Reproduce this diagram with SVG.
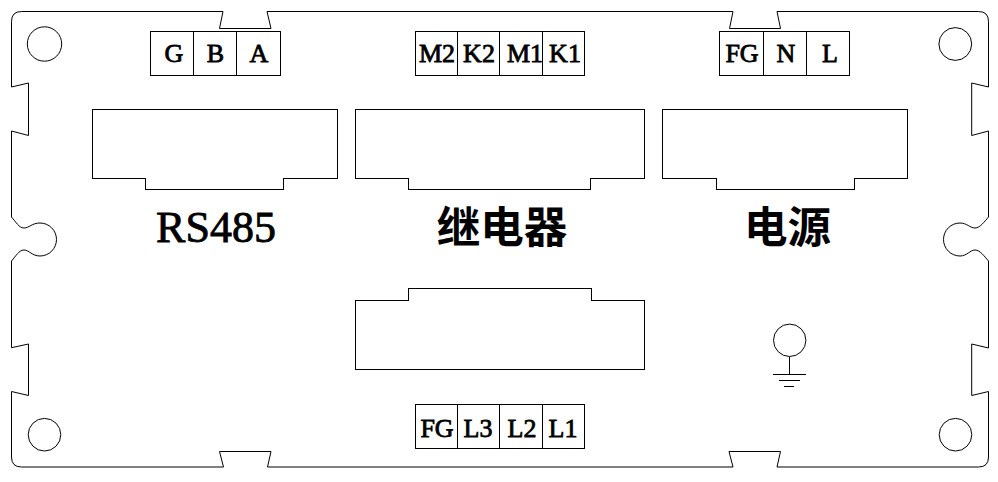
<svg xmlns="http://www.w3.org/2000/svg" width="998" height="482" viewBox="0 0 998 482">
<style>
.l{fill:none;stroke:#000;stroke-width:1}
.s{shape-rendering:crispEdges}
.t{font-family:"Liberation Serif",serif;font-size:26px;text-anchor:middle;fill:#000;stroke:#000;stroke-width:.8}
.h{font-family:"Noto Sans CJK SC",sans-serif;font-weight:bold;font-size:43.5px;text-anchor:middle;fill:#000}
</style>
<rect width="998" height="482" fill="#fff"/>
<g id="outline">
<path class="l" d="M223 11.5L219.5 28.5H271L267 11.5H733L729.5 28.5H780.5L777 11.5H978.5Q988.5 11.5 988.5 21.5V87L971.7 83V135.5L988.5 131V217C984 222 980 228 975 228C970 228 967 223 960 223A16.5 16.5 0 0 0 960 256C967 256 970 250 975 250C980 250 984 256 988.5 261V348L971.7 344V395.5L988.5 391.5V457Q988.5 467 978.5 467H777L780.5 451.5H729L733 467H267.5L271 451.5H219.5L223.5 467H21.5Q11.5 467 11.5 457V391.5L28.5 395.5V344L11.5 347.7V261C16 256 19 250 24 250C29 250 32 256 40 256A16.5 16.5 0 0 0 40 223C32 223 29 228 24 228C19 228 16 222 11.5 217V131L28.5 135.5V83L11.5 87V21.5Q11.5 11.5 21.5 11.5Z"/>
</g>
<g id="holes">
<circle class="l" cx="44.5" cy="44" r="17.2"/>
<circle class="l" cx="955.3" cy="44" r="16.4"/>
<circle class="l" cx="44.5" cy="434.7" r="16.3"/>
<circle class="l" cx="955.5" cy="434.7" r="16.3"/>
</g>
<g id="block-gba">
<path class="l s" d="M150.5 31.5H280.5V75.5H150.5ZM193.5 31.5V75.5M236.5 31.5V75.5"/>
<text class="t" x="174" y="62">G</text><text class="t" x="215.5" y="62">B</text><text class="t" x="259" y="62">A</text>
</g>
<g id="block-relay">
<path class="l s" d="M415.5 31.5H584.5V75.5H415.5ZM457.5 31.5V75.5M499.5 31.5V75.5M542.5 31.5V75.5"/>
<text class="t" x="437" y="62">M2</text><text class="t" x="479" y="62">K2</text><text class="t" x="525" y="62">M1</text><text class="t" x="565" y="62">K1</text>
</g>
<g id="block-power">
<path class="l s" d="M719.5 31.5H849.5V75.5H719.5ZM763.5 31.5V75.5M806.5 31.5V75.5"/>
<text class="t" x="742" y="62">FG</text><text class="t" x="786" y="62">N</text><text class="t" x="830" y="62">L</text>
</g>
<g id="block-lines">
<path class="l s" d="M415.5 404.5H584.5V448.5H415.5ZM457.5 404.5V448.5M499.5 404.5V448.5M542.5 404.5V448.5"/>
<text class="t" x="437" y="436.5">FG</text><text class="t" x="478" y="436.5">L3</text><text class="t" x="522" y="436.5">L2</text><text class="t" x="563" y="436.5">L1</text>
</g>
<g id="connector-rs485"><path class="l s" d="M92.5 109.5H337.5V178.5H283.5V189.5H145.5V178.5H92.5Z"/></g>
<g id="connector-relay"><path class="l s" d="M355.5 109.5H644.5V178.5H590.5V189.5H408.5V178.5H355.5Z"/></g>
<g id="connector-power"><path class="l s" d="M662.5 109.5H907.5V178.5H854.5V189.5H716.5V178.5H662.5Z"/></g>
<g id="connector-lower"><path class="l s" d="M355.5 369.5H644.5V300.5H591.5V288.5H408.5V300.5H355.5Z"/></g>
<g id="ground">
<circle class="l" cx="789.7" cy="340.3" r="16.2"/>
<path class="l s" d="M789.5 356.5V374M773 374.5H806M779 380.5H800M784 386.5H794"/>
</g>
<text x="216" y="242" font-family="Liberation Serif,serif" font-size="44" text-anchor="middle" stroke="#000" stroke-width=".8">RS485</text>
<text class="h" x="502" y="243">继电器</text>
<text class="h" x="787.5" y="243">电源</text>
</svg>
